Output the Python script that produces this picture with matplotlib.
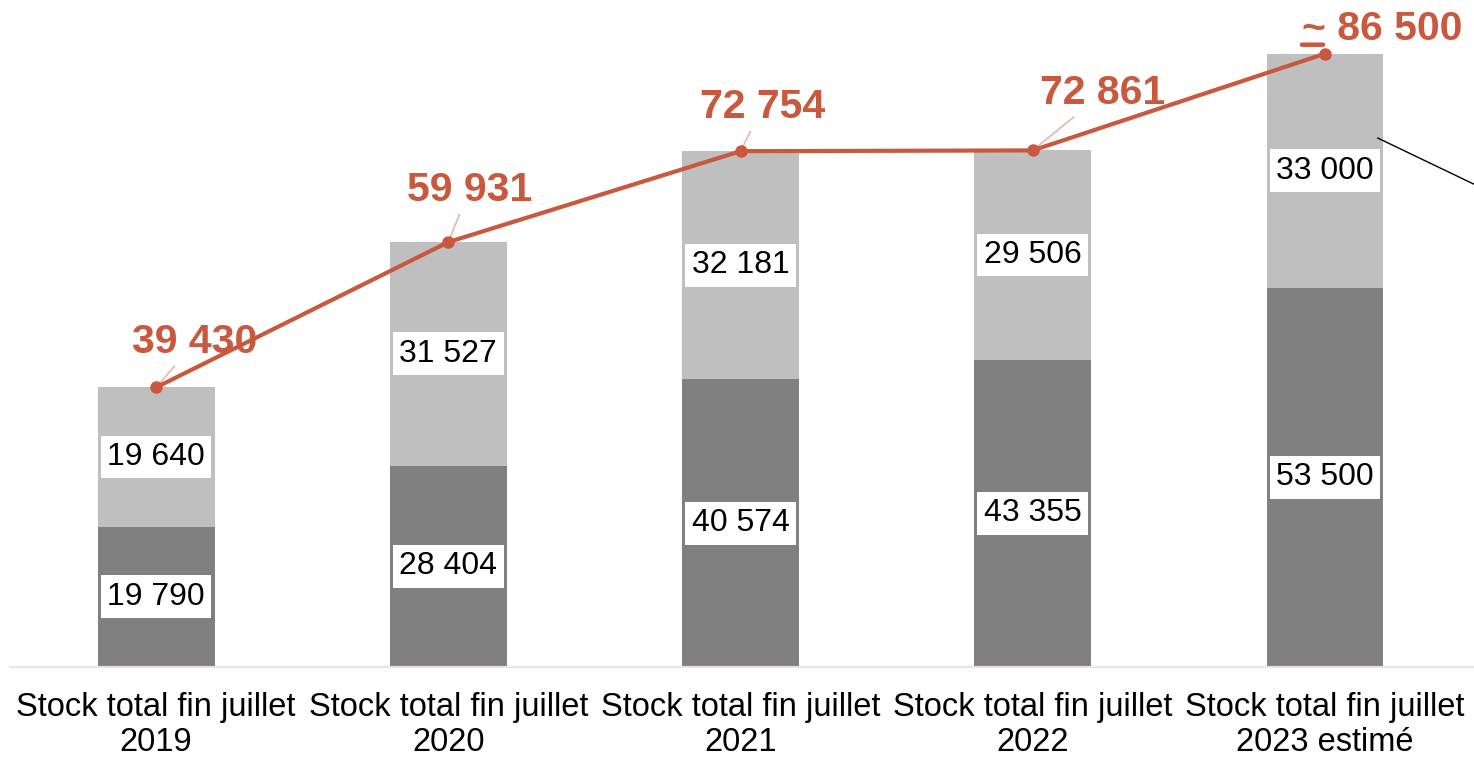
import matplotlib
matplotlib.use("Agg")
import matplotlib.pyplot as plt
from matplotlib.transforms import offset_copy
import numpy as np

plt.rcParams["font.family"] = ["Liberation Sans", "DejaVu Sans"]

# data
categories = ["Stock total fin juillet\n2019", "Stock total fin juillet\n2020",
              "Stock total fin juillet\n2021", "Stock total fin juillet\n2022",
              "Stock total fin juillet\n2023 estimé"]
bottom_vals = [19790, 28404, 40574, 43355, 53500]
top_vals = [19640, 31527, 32181, 29506, 33000]
totals = [39430, 59931, 72754, 72861, 86500]
total_labels = ["39 430", "59 931", "72 754", "72 861", "~ 86 500"]

DARK = "#808080"
LIGHT = "#bfbfbf"
RED = "#c8593e"
LEADER = "#e9b3a6"


def fmt(v):
    return f"{v:,}".replace(",", " ")


def px(p):
    # pixels -> points (dpi 100)
    return p * 0.72


fig = plt.figure(figsize=(14.74, 7.58), dpi=100)
ax = fig.add_axes([10 / 1474, 91 / 758, 1464 / 1474, 667 / 758])

x = np.arange(len(categories))
w = 0.4
ax.bar(x, bottom_vals, width=w, color=DARK, zorder=2)
ax.bar(x, top_vals, width=w, bottom=bottom_vals, color=LIGHT, zorder=2)

# segment labels, centred in each segment with a white box
box = dict(boxstyle="square,pad=0.2", fc="white", ec="none")
for i in range(len(x)):
    ax.text(x[i], bottom_vals[i] / 2, fmt(bottom_vals[i]), ha="center", va="center",
            fontsize=23, color="black", bbox=box, zorder=3)
    ax.text(x[i], bottom_vals[i] + top_vals[i] / 2, fmt(top_vals[i]), ha="center",
            va="center", fontsize=23, color="black", bbox=box, zorder=3)

# total line
ax.plot(x, totals, color=RED, lw=3, marker="o", ms=8, zorder=6)

# total labels, moved off the points with leader lines
offsets = [(39, 45), (21, 52), (22, 44), (70, 57)]
for i, (dx, dy) in enumerate(offsets):
    ax.annotate(total_labels[i], xy=(x[i], totals[i]), xytext=(px(dx), px(dy)),
                textcoords="offset points", ha="center", va="center",
                fontsize=29.5, fontweight="bold", color=RED, zorder=5,
                arrowprops=dict(arrowstyle="-", color=LEADER, lw=1.2,
                                shrinkA=2, shrinkB=3))

# estimated total, tilde underlined
ax.annotate(total_labels[4], xy=(x[4], totals[4]), xytext=(px(-23), px(14)),
            textcoords="offset points", ha="left", va="baseline",
            fontsize=29.5, fontweight="bold", color=RED, zorder=5)
ul_start = offset_copy(ax.transData, fig=fig, x=-23, y=9, units="dots")
ul_end = offset_copy(ax.transData, fig=fig, x=-2, y=9, units="dots")
ax.annotate("", xy=(x[4], totals[4]), xycoords=ul_end,
            xytext=(x[4], totals[4]), textcoords=ul_start,
            arrowprops=dict(arrowstyle="-", color=RED, lw=3.2,
                            shrinkA=0, shrinkB=0), zorder=5)

# callout line leaving the 2023 bar
ax.annotate("", xy=(x[4] + 0.18, bottom_vals[4] + top_vals[4] * 0.64),
            xytext=(px(100), px(-48)), textcoords="offset points",
            arrowprops=dict(arrowstyle="-", color="black", lw=1,
                            shrinkA=0, shrinkB=0), annotation_clip=False)

ax.set_xlim(-0.5, 4.51)
ax.set_ylim(0, 94075)
ax.set_xticks(x)
ax.set_xticklabels(categories, fontsize=23.5, linespacing=1.18)
ax.tick_params(axis="x", length=0, pad=18)
ax.set_yticks([])
for s in ["left", "right", "top"]:
    ax.spines[s].set_visible(False)
ax.spines["bottom"].set_color("#f2e1e1")
ax.spines["bottom"].set_linewidth(1.5)

fig.savefig("out.png", dpi=100)
